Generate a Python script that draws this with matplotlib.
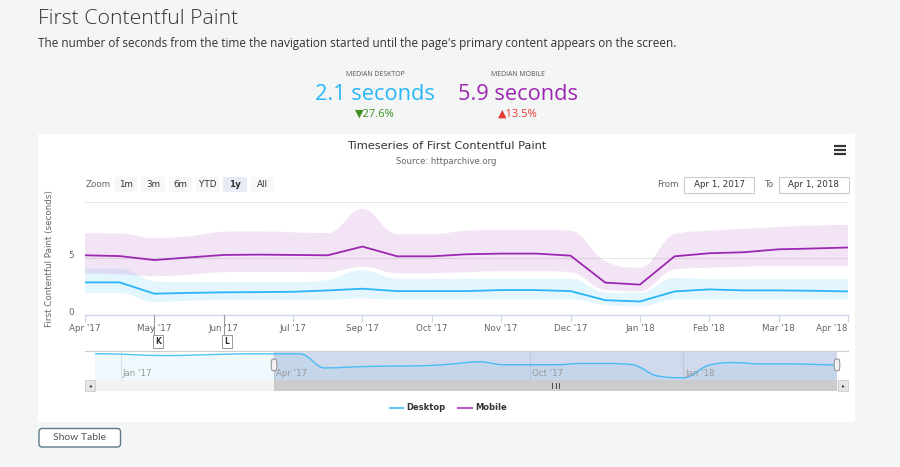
import matplotlib
matplotlib.use('Agg')
import matplotlib.pyplot as plt
from matplotlib.path import Path
from matplotlib.patches import PathPatch, Rectangle, FancyBboxPatch
from matplotlib.transforms import ScaledTranslation, blended_transform_factory

W, H = 900, 467

# half-monthly crawls, Apr 1 2017 .. Apr 1 2018 (ordinal x axis, no Aug crawl)
desktop_median = [2.88, 2.88, 1.88, 1.95, 2.0, 2.02, 2.05, 2.17, 2.32, 2.11, 2.11, 2.11,
                  2.2, 2.2, 2.11, 1.31, 1.19, 2.08, 2.26, 2.17, 2.17, 2.14, 2.08]
desktop_low = [1.94, 1.94, 1.13, 1.25, 1.3, 1.3, 1.3, 1.35, 1.45, 1.37, 1.37, 1.37,
               1.37, 1.37, 1.37, 0.89, 0.74, 1.37, 1.37, 1.37, 1.37, 1.37, 1.37]
desktop_high = [4.1, 4.1, 2.97, 2.9, 2.9, 2.9, 2.9, 3.1, 3.96, 3.2, 3.2, 3.2,
                3.2, 3.2, 3.2, 2.0, 1.95, 3.27, 3.18, 3.18, 3.18, 3.18, 3.18]
mobile_median = [5.27, 5.2, 4.85, 5.08, 5.3, 5.33, 5.3, 5.27, 6.04, 5.18, 5.18, 5.36,
                 5.42, 5.42, 5.24, 2.86, 2.68, 5.18, 5.45, 5.54, 5.8, 5.87, 5.96]
mobile_low = [3.66, 3.6, 3.42, 3.55, 3.78, 3.8, 3.8, 3.78, 4.26, 3.7, 3.7, 3.78,
              3.87, 3.87, 3.78, 2.2, 2.1, 4.02, 4.17, 4.26, 4.32, 4.32, 4.32]
mobile_high = [7.23, 7.2, 6.79, 6.95, 7.35, 7.38, 7.3, 7.23, 9.37, 7.14, 7.14, 7.44,
               7.5, 7.5, 7.44, 4.75, 4.17, 7.14, 7.44, 7.6, 7.77, 7.9, 7.95]
tick_labels = ["Apr '17", "May '17", "Jun '17", "Jul '17", "Sep '17", "Oct '17",
               "Nov '17", "Dec '17", "Jan '18", "Feb '18", "Mar '18", "Apr '18"]

# navigator shows desktop from Dec 15 2016
nav_desktop_before = [2.89, 2.86, 2.78, 2.76, 2.80, 2.85, 2.88]
nav_labels = ["Jan '17", "Apr '17", "Oct '17", "Jan '18"]
nav_label_pos = [1, 7, 17, 23]

flag_labels = ['K', 'L']
flag_pos = [2, 4]

zoom_buttons = ['1m', '3m', '6m', 'YTD', '1y', 'All']
date_from, date_to = 'Apr 1, 2017', 'Apr 1, 2018'

DESKTOP = '#29b6f6'
MOBILE = '#9c27b0'
CF = 'DejaVu Sans'
PF = 'Open Sans'


def frac(x0, y0, x1, y1):
    return [x0 / W, 1 - y1 / H, (x1 - x0) / W, (y1 - y0) / H]


def spline_verts(xs, ys, s=1.5):
    # highcharts-style spline control points
    n = len(xs)
    lc = list(zip(xs, ys))
    rc = list(zip(xs, ys))
    for i in range(1, n - 1):
        x, y = xs[i], ys[i]
        lx = (s * x + xs[i - 1]) / (s + 1)
        ly = (s * y + ys[i - 1]) / (s + 1)
        rx = (s * x + xs[i + 1]) / (s + 1)
        ry = (s * y + ys[i + 1]) / (s + 1)
        corr = (ry - ly) * (rx - x) / (rx - lx) + y - ry
        ly += corr
        ry += corr
        if ly > max(ys[i - 1], y):
            ly = max(ys[i - 1], y); ry = 2 * y - ly
        elif ly < min(ys[i - 1], y):
            ly = min(ys[i - 1], y); ry = 2 * y - ly
        if ry > max(ys[i + 1], y):
            ry = max(ys[i + 1], y); ly = 2 * y - ry
        elif ry < min(ys[i + 1], y):
            ry = min(ys[i + 1], y); ly = 2 * y - ry
        lc[i] = (lx, ly)
        rc[i] = (rx, ry)
    verts = [(xs[0], ys[0])]
    for i in range(1, n):
        verts += [rc[i - 1], lc[i], (xs[i], ys[i])]
    return verts


def band(ax, xs, lo, hi, color, alpha):
    up = spline_verts(xs, hi)
    dn = spline_verts(xs[::-1], lo[::-1])
    n = len(up)
    verts = up + dn + [up[0]]
    codes = ([Path.MOVETO] + [Path.CURVE4] * (n - 1) + [Path.LINETO] +
             [Path.CURVE4] * (n - 1) + [Path.CLOSEPOLY])
    ax.add_patch(PathPatch(Path(verts, codes), fc=color, ec='none', alpha=alpha, zorder=1))


fig = plt.figure(figsize=(W / 100, H / 100), dpi=100, facecolor='#f4f6f6')

# page / decoration layer in pixel coords
bg = fig.add_axes([0, 0, 1, 1], zorder=0)
bg.set_xlim(0, W)
bg.set_ylim(H, 0)
bg.axis('off')
bg.add_patch(Rectangle((38, 134), 817, 288, fc='white', ec='none'))

bg.text(38, 19, 'First Contentful Paint', fontsize=15.3, family=PF, weight='light',
        color='#333333', va='center')
bg.text(38, 44, "The number of seconds from the time the navigation started until the page's "
        "primary content appears on the screen.", fontsize=8.5, family=PF,
        color='#333333', va='center')

bg.text(375, 75, 'MEDIAN DESKTOP', fontsize=5, family=PF, color='#555555', ha='center', va='center')
bg.text(375, 94, '2.1 seconds', fontsize=15.7, family=PF, color=DESKTOP, ha='center', va='center')
bg.text(375, 114, '▼27.6%', fontsize=8, family=[PF, 'DejaVu Sans'], color='#3f8f1f',
        ha='center', va='center')
bg.text(518, 75, 'MEDIAN MOBILE', fontsize=5, family=PF, color='#555555', ha='center', va='center')
bg.text(518, 94, '5.9 seconds', fontsize=15.7, family=PF, color=MOBILE, ha='center', va='center')
bg.text(518, 114, '▲13.5%', fontsize=8, family=[PF, 'DejaVu Sans'], color='#e53935',
        ha='center', va='center')

bg.text(446.5, 146, 'Timeseries of First Contentful Paint', fontsize=8.2, family=CF,
        color='#333333', ha='center', va='center')
bg.text(446.5, 161, 'Source: httparchive.org', fontsize=6.1, family=CF, color='#666666',
        ha='center', va='center')

# export menu icon
for yy in (145.5, 149.5, 153.5):
    bg.plot([834, 846], [yy, yy], color='#333333', lw=1.6, solid_capstyle='butt')

# range selector
bg.text(86, 184.5, 'Zoom', fontsize=6.3, family=CF, color='#666666', va='center')
for i, lab in enumerate(zoom_buttons):
    x0 = 114 + i * 27.3
    sel = lab == '1y'
    bg.add_patch(Rectangle((x0, 176.7), 23.3, 15.6, fc='#e6ebf5' if sel else '#f7f7f7', ec='none'))
    bg.text(x0 + 11.65, 184.5, lab, fontsize=6.3, family=CF, color='#333333', ha='center',
            va='center', weight='bold' if sel else 'normal')

bg.text(679, 184.5, 'From', fontsize=6.3, family=CF, color='#666666', ha='right', va='center')
bg.add_patch(Rectangle((684, 176.7), 70, 16, fc='white', ec='#cccccc', lw=0.8))
bg.text(719, 184.5, date_from, fontsize=6.3, family=CF, color='#333333', ha='center', va='center')
bg.text(773, 184.5, 'To', fontsize=6.3, family=CF, color='#666666', ha='right', va='center')
bg.add_patch(Rectangle((778.5, 176.7), 70, 16, fc='white', ec='#cccccc', lw=0.8))
bg.text(813.5, 184.5, date_to, fontsize=6.3, family=CF, color='#333333', ha='center', va='center')

# legend
bg.plot([390, 403], [407.5, 407.5], color=DESKTOP, lw=1.5, alpha=0.75)
bg.text(406, 407.5, 'Desktop', fontsize=6, family=CF, weight='bold', color='#333333', va='center')
bg.plot([458, 472], [407.5, 407.5], color=MOBILE, lw=1.5, alpha=0.75)
bg.text(475, 407.5, 'Mobile', fontsize=6, family=CF, weight='bold', color='#333333', va='center')

# show table button
bg.add_patch(FancyBboxPatch((39, 428.5), 81.5, 18.5, boxstyle='round,pad=0,rounding_size=3',
                            fc='white', ec='#5d7b86', lw=1))
bg.text(79.75, 437.8, 'Show Table', fontsize=7.5, family='Lato', color='#555555',
        ha='center', va='center')

# main timeseries
ax = fig.add_axes(frac(85, 201.7, 848, 315), zorder=2)
ax.patch.set_alpha(0)
xs = list(range(len(desktop_median)))
band(ax, xs, desktop_low, desktop_high, DESKTOP, 0.12)
ax.plot(xs, desktop_median, color=DESKTOP, lw=1.3, zorder=3)
band(ax, xs, mobile_low, mobile_high, MOBILE, 0.12)
ax.plot(xs, mobile_median, color=MOBILE, lw=1.3, zorder=3)
ax.set_xlim(0, len(xs) - 1)
ax.set_ylim(0, 10)
for sp in ax.spines.values():
    sp.set_visible(False)
for gy in (5, 10):
    ax.axhline(gy, color='#e6e6e6', lw=0.8, zorder=0)
ax.axhline(0, color='#ccd6eb', lw=1, zorder=0, clip_on=False)
ax.set_yticks([0, 5])
ax.set_yticklabels(['0', '5'])
ax.tick_params(axis='y', length=0, pad=8, labelsize=6.3, labelcolor='#666666')
ax.set_xticks(xs[::2])
ax.set_xticklabels(tick_labels)
ax.tick_params(axis='x', length=5, width=0.8, color='#ccd6eb', pad=1.5, labelsize=6.3,
               labelcolor='#666666')
shift = ScaledTranslation(0, 3.5 / 100, fig.dpi_scale_trans)
for t in ax.get_yticklabels():
    t.set_transform(t.get_transform() + shift)
ax.get_xticklabels()[-1].set_ha('right')
ax.set_ylabel('First Contentful Paint (seconds)', fontsize=6.3, color='#666666', labelpad=10)

# event flags under the axis
for lab, p in zip(flag_labels, flag_pos):
    ax.plot([p, p], [0, -1.85], color='#999999', lw=0.8, clip_on=False)
    ax.text(p + 0.02, -2.35, lab, fontsize=5.5, family=CF, weight='bold', color='#333333',
            va='center', ha='left', clip_on=False,
            bbox=dict(boxstyle='square,pad=0.3', fc='white', ec='#999999', lw=0.7))

# navigator
nav = fig.add_axes(frac(85, 351, 848, 380), zorder=2)
nav.patch.set_alpha(0)
nav_y = nav_desktop_before + desktop_median
nx = list(range(len(nav_y)))
nv = spline_verts(nx, nav_y)
nav_path = Path(nv, [Path.MOVETO] + [Path.CURVE4] * (len(nv) - 1))
fill_v = nv + [(nx[-1], 0), (nx[0], 0), nv[0]]
fill_c = [Path.MOVETO] + [Path.CURVE4] * (len(nv) - 1) + [Path.LINETO, Path.LINETO, Path.CLOSEPOLY]
nav.add_patch(PathPatch(Path(fill_v, fill_c), fc=DESKTOP, ec='none', alpha=0.07, zorder=1))
nav.add_patch(PathPatch(nav_path, fc='none', ec=DESKTOP, lw=1, alpha=0.8, zorder=3))
nav.set_xlim(-0.39, 29.43)
nav.set_ylim(1.03, 3.08)
nav.axis('off')
bt = blended_transform_factory(nav.transData, nav.transAxes)
for p, lab in zip(nav_label_pos, nav_labels):
    nav.axvline(p, color='#e6e6e6', lw=0.8, zorder=0)
    nav.text(p + 0.08, 0.24, lab, transform=bt, fontsize=6.2, color='#999999',
             va='center', ha='left')
sel0, sel1 = nav_label_pos[1], nx[-1]
nav.axvspan(sel0, sel1, color=(102 / 255, 133 / 255, 194 / 255), alpha=0.3, lw=0, zorder=2)
nav.axhline(3.08, color='#cccccc', lw=0.8, clip_on=False)
for hx in (sel0, sel1):
    nav.add_patch(FancyBboxPatch((hx - 0.11, 0.32), 0.22, 0.4, boxstyle='round,pad=0,rounding_size=0.05',
                                 transform=bt, fc='#f2f2f2', ec='#999999', lw=0.8, zorder=5,
                                 mutation_aspect=4))

# scrollbar
ta = nav.transAxes
nav.add_patch(Rectangle((0, -0.37), 1, 0.37, transform=ta, fc='#f2f2f2', ec='none', clip_on=False))
nav.add_patch(Rectangle((sel0, -0.37), sel1 - sel0, 0.37, transform=bt, fc='#cccccc', ec='none',
                        clip_on=False))
mid = (sel0 + sel1) / 2
for d in (-0.12, 0, 0.12):
    nav.plot([mid + d, mid + d], [-0.26, -0.11], transform=bt, color='#333333', lw=0.6,
             clip_on=False)
nav.add_patch(Rectangle((0, -0.37), 0.0131, 0.37, transform=ta, fc='#e6e6e6', ec='#cccccc',
                        lw=0.6, clip_on=False))
nav.add_patch(Rectangle((0.9869, -0.37), 0.0131, 0.37, transform=ta, fc='#e6e6e6', ec='#cccccc',
                        lw=0.6, clip_on=False))
nav.text(0.0066, -0.185, '◂', transform=ta, fontsize=4, color='#333333', ha='center',
         va='center', clip_on=False)
nav.text(0.9934, -0.185, '▸', transform=ta, fontsize=4, color='#333333', ha='center',
         va='center', clip_on=False)

fig.savefig('out.png', dpi=100, facecolor=fig.get_facecolor())
